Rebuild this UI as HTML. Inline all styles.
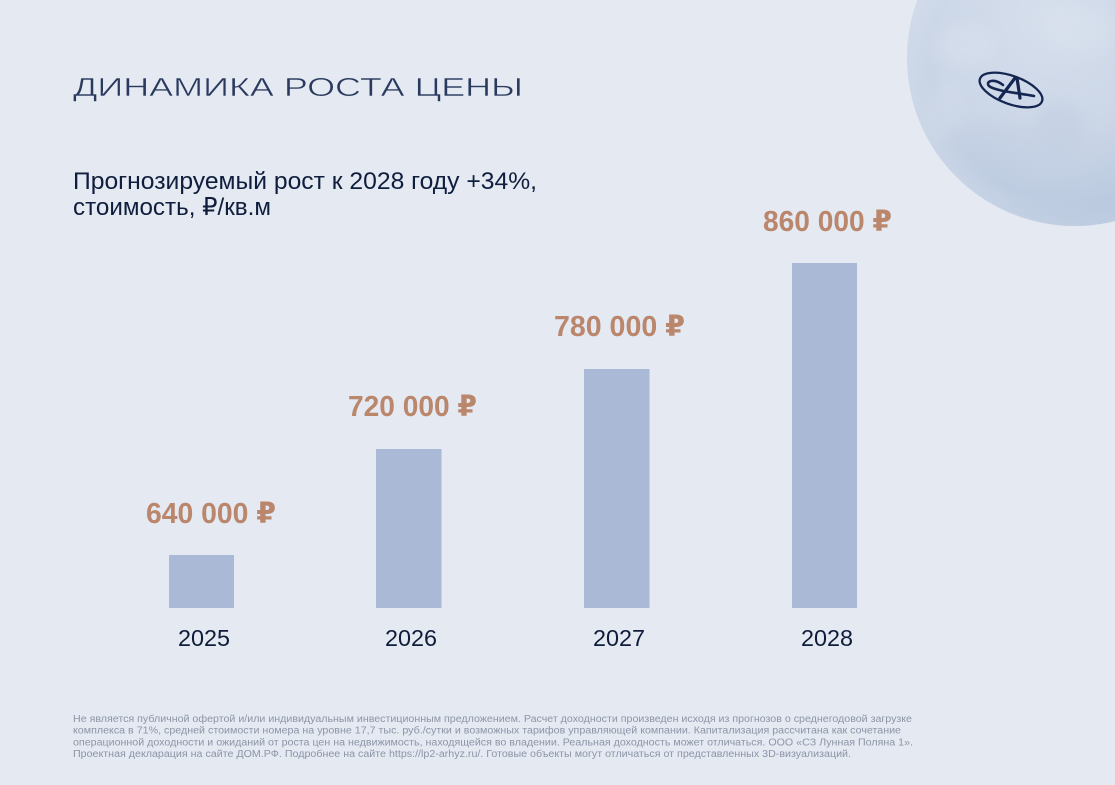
<!DOCTYPE html>
<html>
<head>
<meta charset="utf-8">
<style>
  html,body{margin:0;padding:0;background:#e4e9f2;}
  body{width:1115px;height:785px;overflow:hidden;}
  svg{display:block;}
  .t{font-family:"Liberation Sans","DejaVu Sans",sans-serif;}
</style>
</head>
<body>
<svg width="1115" height="785" viewBox="0 0 1115 785" xmlns="http://www.w3.org/2000/svg">
  <defs>
    <radialGradient id="moon" cx="0.42" cy="0.38" r="0.65">
      <stop offset="0" stop-color="#d6dfec"/>
      <stop offset="0.55" stop-color="#cbd6e7"/>
      <stop offset="0.85" stop-color="#bccbe0"/>
      <stop offset="1" stop-color="#adbfd9"/>
    </radialGradient>
    <radialGradient id="rim" cx="0.5" cy="0.5" r="0.5">
      <stop offset="0.86" stop-color="#e4e9f2" stop-opacity="0"/>
      <stop offset="1" stop-color="#e4e9f2" stop-opacity="0.3"/>
    </radialGradient>
    <clipPath id="mc"><circle cx="1075" cy="58" r="168"/></clipPath>
    <filter id="blur" x="-50%" y="-50%" width="200%" height="200%"><feGaussianBlur stdDeviation="8"/></filter>
  </defs>
  <rect width="1115" height="785" fill="#e4e9f2"/>

  <!-- Moon -->
  <circle cx="1075" cy="58" r="168" fill="url(#moon)"/>
  <g clip-path="url(#mc)">
    <g filter="url(#blur)" opacity="0.35">
      <ellipse cx="965" cy="45" rx="30" ry="22" fill="#dfe6f1"/>
      <ellipse cx="1005" cy="150" rx="40" ry="25" fill="#bfcce0"/>
      <ellipse cx="1080" cy="30" rx="35" ry="25" fill="#dde4ef"/>
      <ellipse cx="1060" cy="130" rx="25" ry="30" fill="#bccade"/>
      <ellipse cx="945" cy="110" rx="18" ry="30" fill="#d8e0ec"/>
    </g>
  </g>
  <circle cx="1075" cy="58" r="168" fill="url(#rim)"/>

  <!-- Logo -->
  <g fill="none" stroke="#142651" stroke-linecap="round">
    <ellipse cx="1011" cy="90" rx="33" ry="14" transform="rotate(20 1011 90)" stroke-width="2.3"/>
    <path d="M1000 98 L1015 78" stroke-width="3.2"/>
    <path d="M1017 78 L1020 98" stroke-width="3.2"/>
    <path d="M1034 96 C1018 93, 995 91, 989 86 C985 81, 994 78, 1003 85" stroke-width="2.6"/>
  </g>

  <!-- Title -->
  <text class="t" x="73" y="96" font-size="26" fill="#2a3a5e" stroke="#e4e9f2" stroke-width="0.5" paint-order="normal" textLength="450" lengthAdjust="spacingAndGlyphs">ДИНАМИКА РОСТА ЦЕНЫ</text>

  <!-- Subtitle -->
  <text class="t" x="73" y="189" font-size="24.5" fill="#0f1e3c" textLength="464" lengthAdjust="spacingAndGlyphs">Прогнозируемый рост к 2028 году +34%,</text>
  <text class="t" x="73" y="215" font-size="24.5" fill="#0f1e3c" textLength="198" lengthAdjust="spacingAndGlyphs">стоимость, ₽/кв.м</text>

  <!-- Bars -->
  <g fill="#a9b9d6">
    <rect x="169" y="555" width="65" height="53"/>
    <rect x="376" y="449" width="65.5" height="159"/>
    <rect x="584" y="369" width="65.5" height="239"/>
    <rect x="792" y="263" width="65" height="345"/>
  </g>

  <!-- Values -->
  <g class="t" font-size="29" font-weight="bold" fill="#ba866c">
    <text x="146" y="523" textLength="130" lengthAdjust="spacingAndGlyphs">640 000 ₽</text>
    <text x="348" y="416" textLength="129" lengthAdjust="spacingAndGlyphs">720 000 ₽</text>
    <text x="554" y="336" textLength="131" lengthAdjust="spacingAndGlyphs">780 000 ₽</text>
    <text x="763" y="231" textLength="129" lengthAdjust="spacingAndGlyphs">860 000 ₽</text>
  </g>

  <!-- Years -->
  <g class="t" font-size="23.5" fill="#0f1d3a">
    <text x="178" y="646" textLength="52" lengthAdjust="spacingAndGlyphs">2025</text>
    <text x="385" y="646" textLength="52" lengthAdjust="spacingAndGlyphs">2026</text>
    <text x="593" y="646" textLength="52" lengthAdjust="spacingAndGlyphs">2027</text>
    <text x="801" y="646" textLength="52" lengthAdjust="spacingAndGlyphs">2028</text>
  </g>

  <!-- Footer -->
  <g class="t" font-size="10" fill="#8d95a7">
    <text x="73" y="722" textLength="839" lengthAdjust="spacingAndGlyphs">Не является публичной офертой и/или индивидуальным инвестиционным предложением. Расчет доходности произведен исходя из прогнозов о среднегодовой загрузке</text>
    <text x="73" y="733.7" textLength="828" lengthAdjust="spacingAndGlyphs">комплекса в 71%, средней стоимости номера на уровне 17,7 тыс. руб./сутки и возможных тарифов управляющей компании. Капитализация рассчитана как сочетание</text>
    <text x="73" y="745.4" textLength="840" lengthAdjust="spacingAndGlyphs">операционной доходности и ожиданий от роста цен на недвижимость, находящейся во владении. Реальная доходность может отличаться. ООО «СЗ Лунная Поляна 1».</text>
    <text x="73" y="757" textLength="778" lengthAdjust="spacingAndGlyphs">Проектная декларация на сайте ДОМ.РФ. Подробнее на сайте https://lp2-arhyz.ru/. Готовые объекты могут отличаться от представленных 3D-визуализаций.</text>
  </g>
</svg>
</body>
</html>
